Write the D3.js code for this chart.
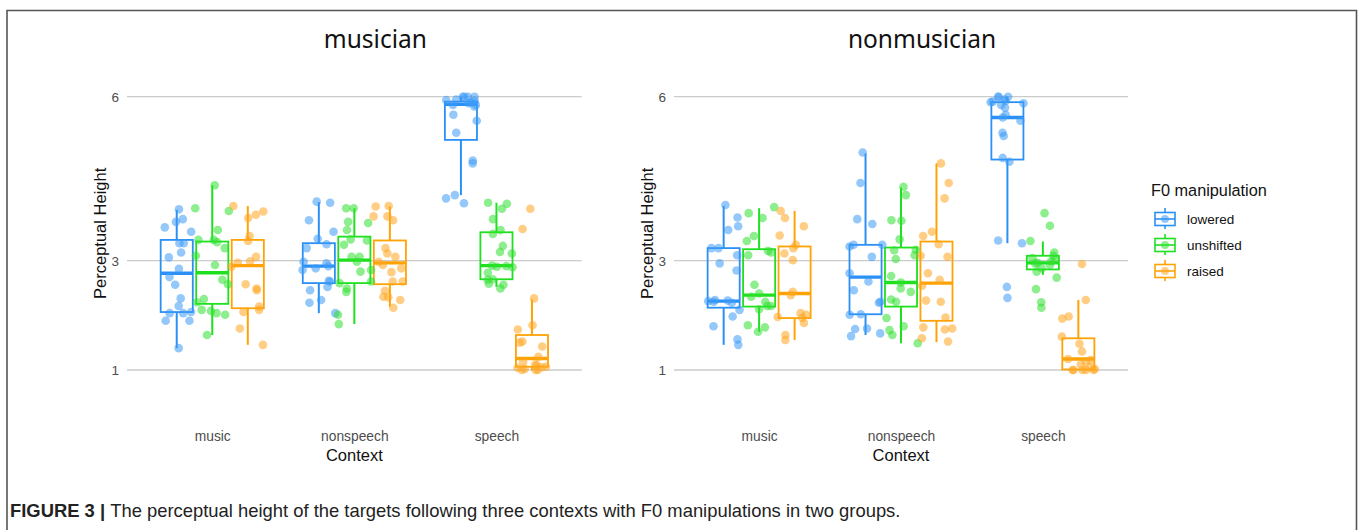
<!DOCTYPE html>
<html>
<head>
<meta charset="utf-8">
<script src="https://cdn.jsdelivr.net/npm/d3@7"></script>
<style>
  body { margin: 0; background: #fff; }
  svg { display: block; }
</style>
</head>
<body>
<svg id="chart" width="1363" height="530"></svg>
<script>
// ---- data -------------------------------------------------------------
const groups = ["musician", "nonmusician"];
const contexts = ["music", "nonspeech", "speech"];
const manipulations = ["lowered", "unshifted", "raised"];
const yTicks = [1, 3, 6];

// box summaries: [lower whisker, Q1, median, Q3, upper whisker], one row per context
const musicianLoweredBox   = [[1.40, 2.06, 2.77, 3.38, 3.93], [2.04, 2.59, 2.90, 3.32, 4.07], [4.20, 5.21, 5.86, 5.91, 6.00]];
const musicianUnshiftedBox = [[1.64, 2.21, 2.78, 3.35, 4.38], [1.84, 2.59, 3.01, 3.44, 3.96], [2.52, 2.66, 2.91, 3.52, 4.06]];
const musicianRaisedBox    = [[1.46, 2.13, 2.91, 3.38, 4.00], [2.16, 2.57, 2.96, 3.37, 3.99], [1.00, 1.06, 1.21, 1.64, 2.29]];
const nonmusicianLoweredBox   = [[1.46, 2.14, 2.26, 3.23, 4.00], [1.64, 2.02, 2.70, 3.29, 4.96], [3.32, 4.85, 5.62, 5.90, 6.00]];
const nonmusicianUnshiftedBox = [[1.70, 2.16, 2.37, 3.21, 3.96], [1.49, 2.16, 2.60, 3.24, 4.34], [2.74, 2.84, 2.96, 3.09, 3.35]];
const nonmusicianRaisedBox    = [[1.55, 1.95, 2.40, 3.26, 3.91], [1.51, 1.90, 2.59, 3.35, 4.78], [1.00, 1.01, 1.20, 1.58, 2.28]];

// individual perceptual-height ratings, one list per context
const musicianLoweredPoints = [
  [3.94, 3.76, 3.71, 3.61, 3.53, 3.32, 3.32, 3.15, 3.06, 2.85, 2.70, 2.56, 2.31, 2.17, 2.06, 2.04, 2.04, 1.90, 1.90, 1.40],
  [4.08, 4.06, 3.74, 3.53, 3.40, 3.30, 3.23, 2.98, 2.95, 2.90, 2.86, 2.83, 2.63, 2.62, 2.52, 2.46, 2.28, 2.23, 2.04],
  [6.00, 6.00, 6.00, 6.00, 5.95, 5.94, 5.92, 5.90, 5.88, 5.85, 5.85, 5.82, 5.67, 5.56, 5.34, 4.83, 4.78, 4.20, 4.14, 4.05]
];
const musicianUnshiftedPoints = [
  [4.38, 3.96, 3.91, 3.56, 3.38, 3.38, 3.34, 3.23, 3.09, 2.92, 2.65, 2.57, 2.30, 2.24, 2.10, 2.08, 2.04, 2.01, 1.64],
  [3.96, 3.96, 3.71, 3.69, 3.56, 3.39, 3.37, 3.29, 3.07, 3.07, 2.98, 2.83, 2.80, 2.62, 2.59, 2.49, 2.43, 2.01, 1.84],
  [4.06, 4.04, 3.95, 3.76, 3.56, 3.49, 3.27, 3.16, 3.13, 2.91, 2.90, 2.89, 2.88, 2.78, 2.66, 2.65, 2.58, 2.56, 2.49]
];
const musicianRaisedPoints = [
  [4.00, 3.90, 3.84, 3.78, 3.45, 3.36, 3.07, 2.99, 2.96, 2.89, 2.57, 2.49, 2.46, 2.16, 2.10, 2.06, 1.76, 1.46],
  [4.00, 3.99, 3.81, 3.81, 3.74, 3.23, 3.13, 3.07, 2.98, 2.92, 2.86, 2.79, 2.62, 2.62, 2.45, 2.34, 2.33, 2.28, 2.14],
  [3.95, 3.58, 2.31, 1.82, 1.74, 1.52, 1.50, 1.43, 1.24, 1.15, 1.10, 1.08, 1.06, 1.05, 1.04, 1.02, 1.00, 1.00, 1.00]
];
const nonmusicianLoweredPoints = [
  [4.02, 3.79, 3.63, 3.56, 3.23, 3.23, 3.10, 2.95, 2.82, 2.28, 2.27, 2.26, 2.25, 2.23, 2.10, 1.98, 1.80, 1.56, 1.46],
  [4.98, 4.42, 3.76, 3.67, 3.29, 3.29, 3.26, 3.07, 2.77, 2.62, 2.46, 2.25, 2.23, 2.02, 2.01, 1.76, 1.75, 1.67, 1.62],
  [6.00, 6.00, 6.00, 5.95, 5.92, 5.91, 5.90, 5.88, 5.85, 5.80, 5.67, 5.62, 5.56, 5.34, 5.28, 4.88, 4.81, 3.37, 3.32, 2.52, 2.32]
];
const nonmusicianUnshiftedPoints = [
  [3.98, 3.87, 3.78, 3.45, 3.36, 3.18, 3.15, 3.10, 2.56, 2.40, 2.34, 2.25, 2.17, 2.17, 2.11, 1.82, 1.78, 1.70],
  [4.35, 4.20, 3.74, 3.73, 3.39, 3.20, 3.19, 3.10, 3.03, 2.72, 2.60, 2.49, 2.43, 2.29, 2.25, 1.95, 1.80, 1.73, 1.64, 1.49],
  [3.87, 3.64, 3.36, 3.15, 3.09, 3.05, 3.02, 2.99, 2.96, 2.95, 2.92, 2.86, 2.80, 2.69, 2.48, 2.24, 2.14]
];
const nonmusicianRaisedPoints = [
  [3.91, 3.78, 3.63, 3.46, 3.29, 3.23, 3.13, 3.01, 2.43, 2.37, 2.04, 2.01, 1.97, 1.95, 1.86, 1.64, 1.55],
  [4.78, 4.42, 4.14, 3.53, 3.45, 3.30, 3.09, 3.07, 2.77, 2.65, 2.54, 2.27, 2.25, 1.96, 1.78, 1.76, 1.74, 1.58, 1.52],
  [2.94, 2.28, 1.98, 1.94, 1.61, 1.48, 1.34, 1.20, 1.18, 1.15, 1.10, 1.05, 1.02, 1.00, 1.00, 1.00, 1.00, 1.00]
];

const boxTable = {
  musician:    { lowered: musicianLoweredBox, unshifted: musicianUnshiftedBox, raised: musicianRaisedBox },
  nonmusician: { lowered: nonmusicianLoweredBox, unshifted: nonmusicianUnshiftedBox, raised: nonmusicianRaisedBox }
};
const pointTable = {
  musician:    { lowered: musicianLoweredPoints, unshifted: musicianUnshiftedPoints, raised: musicianRaisedPoints },
  nonmusician: { lowered: nonmusicianLoweredPoints, unshifted: nonmusicianUnshiftedPoints, raised: nonmusicianRaisedPoints }
};

// ---- styling ----------------------------------------------------------
const lineColor  = { lowered: "#2b90f5", unshifted: "#1fe01f", raised: "#ffa305" };
const pointColor = { lowered: "#3d9bf5", unshifted: "#2fe02f", raised: "#ffa51f" };
const sansAxis = "'Liberation Sans', Arial, sans-serif";
const sansTitle = "'Noto Sans', 'Open Sans', sans-serif";

const svg = d3.select("#chart");

// figure frame (open at the bottom edge)
svg.append("path")
  .attr("d", "M7,531V10.5H1356.5V531")
  .attr("fill", "none").attr("stroke", "#555").attr("stroke-width", 1.6);

const panelX = { musician: [127, 581.7], nonmusician: [674, 1128] };
const y = d3.scaleLinear().domain([1, 6]).range([370, 96.7]);
const dodge = d3.scalePoint().domain(manipulations).range([-0.25, 0.25]);
const boxW = 0.226;

// deterministic horizontal jitter for the points
const rng = d3.randomLcg(0.3172);
const jitter = d3.randomUniform.source(rng)(-0.12, 0.12);

groups.forEach(group => {
  const x = d3.scaleLinear().domain([0.4, 3.6]).range(panelX[group]);
  const unit = x(1) - x(0);
  const g = svg.append("g");

  // horizontal grid at the tick values
  g.selectAll(".grid").data(yTicks).join("line")
    .attr("x1", panelX[group][0]).attr("x2", panelX[group][1])
    .attr("y1", d => y(d)).attr("y2", d => y(d))
    .attr("stroke", "#cbcbcb").attr("stroke-width", 1.3);

  // y axis tick labels
  const yAxis = d3.axisLeft(y).tickValues(yTicks).tickSize(0).tickPadding(8).tickFormat(d3.format("d"));
  const ya = g.append("g").attr("transform", `translate(${panelX[group][0]},0)`).call(yAxis);
  ya.select(".domain").remove();
  ya.selectAll("text").attr("font-family", sansAxis).attr("font-size", 13.5).attr("fill", "#4d4d4d");

  // x axis category labels
  const xCat = d3.scalePoint().domain(contexts).range([x(1), x(3)]);
  const xAxis = d3.axisBottom(xCat).tickSize(0).tickPadding(0);
  const xa = g.append("g").attr("transform", "translate(0,431)").call(xAxis);
  xa.select(".domain").remove();
  xa.selectAll("text").attr("font-family", sansAxis).attr("font-size", 13.8).attr("fill", "#4d4d4d");

  // axis titles and panel title
  const midX = (panelX[group][0] + panelX[group][1]) / 2;
  g.append("text").attr("x", midX).attr("y", 461).attr("text-anchor", "middle")
    .attr("font-family", sansAxis).attr("font-size", 16.5).attr("fill", "#111").text("Context");
  g.append("text").attr("transform", `translate(${panelX[group][0] - 21},${y(3.5)}) rotate(-90)`)
    .attr("text-anchor", "middle").attr("font-family", sansAxis).attr("font-size", 16.5)
    .attr("fill", "#111").text("Perceptual Height");
  g.append("text").attr("x", midX + 21).attr("y", 48).attr("text-anchor", "middle")
    .attr("font-family", sansTitle).attr("font-size", 24.5).attr("fill", "#111").text(group);

  // boxplots
  const boxes = [];
  contexts.forEach((c, ci) => manipulations.forEach(m => {
    const s = boxTable[group][m][ci];
    boxes.push({ m, cx: x(ci + 1 + dodge(m)), lo: s[0], q1: s[1], med: s[2], q3: s[3], hi: s[4] });
  }));
  const bw = boxW * unit;
  const bg = g.selectAll(".box").data(boxes).join("g");
  bg.append("line").attr("x1", d => d.cx).attr("x2", d => d.cx)
    .attr("y1", d => y(d.q3)).attr("y2", d => y(d.hi))
    .attr("stroke", d => lineColor[d.m]).attr("stroke-width", 2);
  bg.append("line").attr("x1", d => d.cx).attr("x2", d => d.cx)
    .attr("y1", d => y(d.q1)).attr("y2", d => y(d.lo))
    .attr("stroke", d => lineColor[d.m]).attr("stroke-width", 2);
  bg.append("rect").attr("x", d => d.cx - bw / 2).attr("width", bw)
    .attr("y", d => y(d.q3)).attr("height", d => y(d.q1) - y(d.q3))
    .attr("fill", "none").attr("stroke", d => lineColor[d.m]).attr("stroke-width", 1.8);
  bg.append("line").attr("x1", d => d.cx - bw / 2).attr("x2", d => d.cx + bw / 2)
    .attr("y1", d => y(d.med)).attr("y2", d => y(d.med))
    .attr("stroke", d => lineColor[d.m]).attr("stroke-width", 3.4);

  // jittered individual ratings
  const pts = [];
  contexts.forEach((c, ci) => manipulations.forEach(m => {
    pointTable[group][m][ci].forEach(v => pts.push({ m, v, px: ci + 1 + dodge(m) + jitter() }));
  }));
  g.selectAll(".pt").data(pts).join("circle")
    .attr("cx", d => x(d.px)).attr("cy", d => y(d.v)).attr("r", 4.3)
    .attr("fill", d => pointColor[d.m]).attr("fill-opacity", 0.55);
});

// legend
const lg = svg.append("g").attr("transform", "translate(1151,0)");
lg.append("text").attr("x", 0).attr("y", 196).attr("font-family", sansAxis)
  .attr("font-size", 16.3).attr("fill", "#111").text("F0 manipulation");
const key = lg.selectAll(".key").data(manipulations).join("g")
  .attr("transform", (d, i) => `translate(4,${219 + i * 26})`);
key.append("line").attr("x1", 10).attr("x2", 10).attr("y1", -11).attr("y2", 10)
  .attr("stroke", d => lineColor[d]).attr("stroke-width", 1.6);
key.append("rect").attr("x", 0).attr("y", -6.5).attr("width", 20).attr("height", 13)
  .attr("fill", "#fff").attr("stroke", d => lineColor[d]).attr("stroke-width", 1.6);
key.append("line").attr("x1", 0).attr("x2", 20).attr("y1", 0).attr("y2", 0)
  .attr("stroke", d => lineColor[d]).attr("stroke-width", 1.6);
key.append("circle").attr("cx", 10).attr("cy", 0).attr("r", 4)
  .attr("fill", d => pointColor[d]).attr("fill-opacity", 0.55);
key.append("text").attr("x", 32).attr("y", 4.5).attr("font-family", sansAxis)
  .attr("font-size", 13.5).attr("fill", "#111").text(d => d);

// caption
const cap = svg.append("text").attr("x", 10).attr("y", 517)
  .attr("font-family", sansAxis).attr("font-size", 18.4).attr("fill", "#222");
cap.append("tspan").attr("font-weight", "bold").text("FIGURE 3 | ");
cap.append("tspan").text("The perceptual height of the targets following three contexts with F0 manipulations in two groups.");
</script>
</body>
</html>
